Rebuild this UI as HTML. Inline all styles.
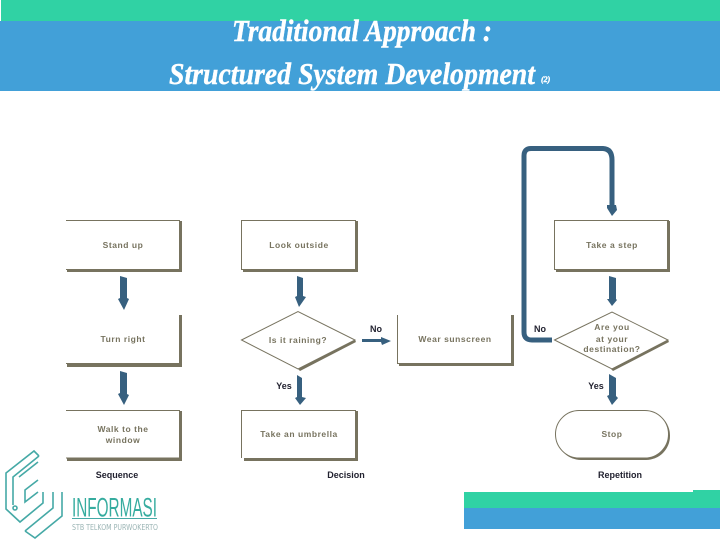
<!DOCTYPE html>
<html><head><meta charset="utf-8"><style>
html,body{margin:0;padding:0;background:#fff;width:720px;height:540px;overflow:hidden}
svg{display:block}
.t{font-family:"Liberation Serif",serif;font-style:italic;font-weight:bold;fill:#fff;stroke:#fff;stroke-width:.4}
.n{font-family:"Liberation Sans",sans-serif;font-size:8.5px;font-weight:bold;fill:#77735f;text-anchor:middle;letter-spacing:.55px}
.l{font-family:"Liberation Sans",sans-serif;font-size:9px;font-weight:bold;fill:#222230;text-anchor:middle}
</style></head><body>
<svg width="720" height="540" viewBox="0 0 720 540" xmlns="http://www.w3.org/2000/svg">
<rect x="0" y="21" width="720" height="70" fill="#42a0d8"/>
<rect x="1" y="0" width="719" height="21" fill="#30d2a4"/>
<text class="t" x="232" y="41" font-size="31" textLength="260" lengthAdjust="spacingAndGlyphs">Traditional Approach :</text>
<text class="t" x="169" y="84" font-size="31" textLength="366" lengthAdjust="spacingAndGlyphs">Structured System  Development</text>
<text class="t" x="541" y="82" font-size="8">(2)</text>

<g fill="#77735f">
<rect x="179" y="221" width="3" height="51"/><rect x="67" y="269" width="115" height="3"/>
<rect x="355" y="221" width="3" height="51"/><rect x="243" y="269" width="115" height="3"/>
<rect x="179" y="315" width="3" height="52"/><rect x="67" y="363" width="115" height="4"/>
<rect x="179" y="411" width="3" height="50"/><rect x="67" y="458" width="115" height="3"/>
<rect x="355" y="411" width="3" height="50"/><rect x="244" y="458" width="114" height="3"/>
<rect x="511" y="315" width="3" height="51"/><rect x="399" y="363" width="115" height="3"/>
<rect x="667" y="221" width="3" height="51"/><rect x="556" y="269" width="114" height="3"/>
<polygon points="355,340 356,342 300,371 298,369"/>
<polygon points="668,340 669,342 613,371 611,369"/>
</g>
<g fill="none" stroke="#77735f" stroke-width="1">
<path d="M66 220.5H179.5V269.5H66"/>
<path d="M241.5 220.5H355.5V269.5H241.5Z"/>
<path d="M179.5 315V363.5H66"/>
<path d="M66 410.5H179.5V458H66"/>
<path d="M241.5 458V410.5H355.5V458"/>
<path d="M397.5 315V363.5H511.5V315"/>
<path d="M554.5 220.5H668.5V269.5H554.5Z"/>
<path d="M241.5 340L298 311.5L355 340L298 369Z"/>
<path d="M554.5 340L612 312L668 340L612 369Z"/>
</g>
<rect x="557" y="411.5" width="113" height="48.5" rx="24" fill="#77735f"/>
<rect x="555.5" y="410.5" width="113" height="47.5" rx="23.7" fill="#fff" stroke="#77735f" stroke-width="1"/>

<g fill="#37607f">
<polygon points="120,276 127,278 127,298 129,299 124,310 118,299 120,298"/>
<polygon points="120,371 127,373 127,394 129,395 124,405 118,394 120,393"/>
<polygon points="297,276 303,278 303,296 306,297 299,307 295,297 297,296"/>
<polygon points="297,375 302,378 302,397 306,398 300,405 295,398 297,397"/>
<polygon points="609,276 616,278 616,299 617,300 612,306 607,299 609,299"/>
<polygon points="609,374 616,378 616,396 618,398 612,405 607,396 609,395"/>
<polygon points="362,339 381,339 381,337 391,341 382,345 381,342 362,342"/>
</g>
<path d="M552 340H532Q524 340 524 332V156Q524 148.500 531 148.500H603Q612 149 612 160V206" fill="none" stroke="#37607f" stroke-width="5"/>
<polygon points="607,205 616,205 617,210 612,216 607,208" fill="#37607f"/>

<text class="n" x="123" y="248">Stand up</text>
<text class="n" x="299" y="248">Look outside</text>
<text class="n" x="123" y="342">Turn right</text>
<text class="n" x="298" y="343">Is it raining?</text>
<text class="n" x="455" y="342">Wear sunscreen</text>
<text class="n" x="612" y="248">Take a step</text>
<text class="n" x="612" y="330">Are you</text>
<text class="n" x="612" y="342">at your</text>
<text class="n" x="612" y="352">destination?</text>
<text class="n" x="123" y="432">Walk to the</text>
<text class="n" x="123" y="443">window</text>
<text class="n" x="299" y="437">Take an umbrella</text>
<text class="n" x="612" y="437">Stop</text>

<text class="l" x="376" y="332">No</text>
<text class="l" x="540" y="332">No</text>
<text class="l" x="284" y="389">Yes</text>
<text class="l" x="596" y="389">Yes</text>
<text class="l" x="117" y="478">Sequence</text>
<text class="l" x="346" y="478">Decision</text>
<text class="l" x="620" y="478">Repetition</text>

<rect x="464" y="492" width="256" height="16" fill="#30d2a4"/>
<rect x="693" y="490" width="27" height="3" fill="#30d2a4"/>
<rect x="464" y="508" width="256" height="21" fill="#42a0d8"/>

<g fill="none" stroke="#45a9a6" stroke-width="1.6">
<path d="M39 456L34 451L6 473V509L20 522L43 503V492"/>
<path d="M39 456L13 477V505"/>
<path d="M38 462L19 477"/>
<path d="M38 480L25 490V502L38 492"/>
<path d="M25 531L53 508V492"/>
<path d="M25 531L35 538L62 516V492"/>
<circle cx="15" cy="508" r="2"/>
</g>
<text x="72" y="516.500" font-family="Liberation Sans,sans-serif" font-size="27" fill="#36ac9f" textLength="85" lengthAdjust="spacingAndGlyphs">INFORMASI</text>
<rect x="72" y="518" width="85" height="1" fill="#45a9a6"/>
<text x="72" y="530" font-family="DejaVu Sans,sans-serif" font-size="8" fill="#9ab4b4" textLength="86" lengthAdjust="spacingAndGlyphs">STB TELKOM PURWOKERTO</text>
</svg>
</body></html>
